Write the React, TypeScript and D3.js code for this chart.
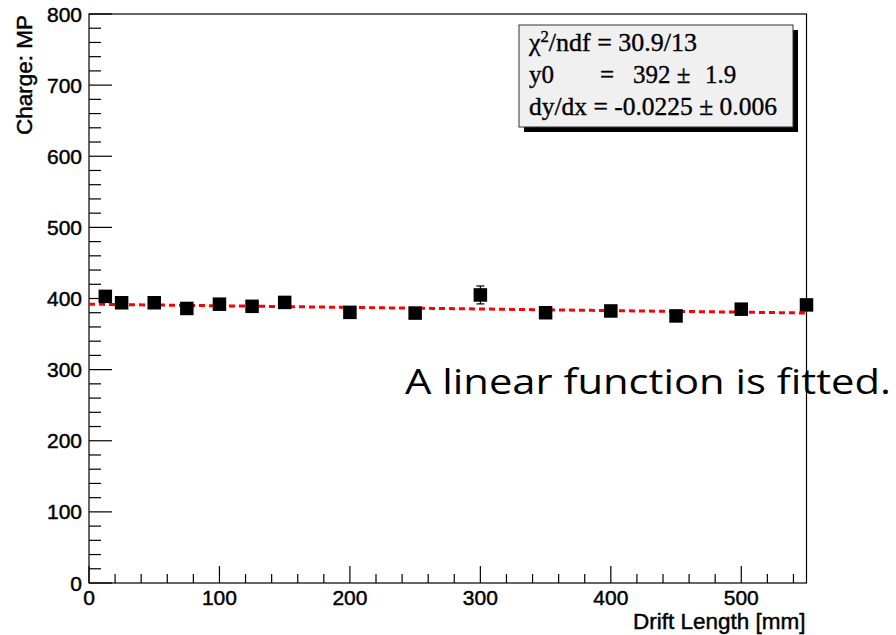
import React from "react";
import * as d3 from "d3";

const driftLength = [12.5, 25, 50, 75, 100, 125, 150, 200, 250, 300, 350, 400, 450, 500, 550];
const charge = [403, 394, 394, 386, 392, 389, 394.5, 380.5, 379.5, 405, 380, 382.5, 375.5, 385, 391];
const chargeErr = [5, 5, 5, 5, 5, 5, 5, 5, 5, 12.6, 5, 5, 5, 5, 5];
const xMajorTicks = [0, 100, 200, 300, 400, 500];
const yMajorTicks = [0, 100, 200, 300, 400, 500, 600, 700, 800];
const fitY0 = 392;
const fitSlope = -0.0225;

const W = 896, H = 635;
const L = 89, R = 806.5, T = 14, B = 583;

export default function App() {
  const x = d3.scaleLinear().domain([0, 550]).range([L, R]);
  const y = d3.scaleLinear().domain([0, 800]).range([B, T]);
  const xMinor = d3.range(0, 551, 20).filter((v) => v % 100 !== 0);
  const yMinor = d3.range(0, 801, 20).filter((v) => v % 100 !== 0);
  const fitLine = d3.line<number>().x((d) => x(d)).y((d) => y(fitY0 + fitSlope * d));
  const fitXs = d3.range(0, 551, 5.5);
  const sans = "'Liberation Sans', Arial, sans-serif";
  const serif = "'Liberation Serif', 'Times New Roman', serif";
  const ms = 13.5;
  const bold = { stroke: "#000", strokeWidth: 0.45 };
  return (
    <svg width={W} height={H} style={{ position: "absolute", left: 0, top: 0, background: "#fff" }}>
      <rect x={0} y={0} width={W} height={H} fill="#fff" />
      {/* frame */}
      <rect x={L} y={T} width={R - L} height={B - T} fill="none" stroke="#000" strokeWidth={1.2} />
      {/* ticks */}
      {xMajorTicks.map((v) => (
        <line key={"xM" + v} x1={x(v)} x2={x(v)} y1={B} y2={B - 17} stroke="#000" strokeWidth={1.2} />
      ))}
      {xMinor.map((v) => (
        <line key={"xm" + v} x1={x(v)} x2={x(v)} y1={B} y2={B - 9} stroke="#000" strokeWidth={1.2} />
      ))}
      {yMajorTicks.map((v) => (
        <line key={"yM" + v} x1={L} x2={L + 23} y1={y(v)} y2={y(v)} stroke="#000" strokeWidth={1.2} />
      ))}
      {yMinor.map((v) => (
        <line key={"ym" + v} x1={L} x2={L + 12} y1={y(v)} y2={y(v)} stroke="#000" strokeWidth={1.2} />
      ))}
      {/* tick labels */}
      {xMajorTicks.map((v) => (
        <text key={"xl" + v} x={x(v)} y={B + 22} fontFamily={sans} fontSize={21} textAnchor="middle" fill="#000" {...bold}>
          {v}
        </text>
      ))}
      {yMajorTicks.map((v) => (
        <text key={"yl" + v} x={L - 7} y={y(v) + 7.5} fontFamily={sans} fontSize={21} textAnchor="end" fill="#000" {...bold}>
          {v}
        </text>
      ))}
      {/* axis titles */}
      <text x={R - 1} y={629} fontFamily={sans} fontSize={22.5} textAnchor="end" fill="#000" {...bold}>
        Drift Length [mm]
      </text>
      <text transform={`translate(32,15) rotate(-90)`} fontFamily={sans} fontSize={22.5} textAnchor="end" fill="#000" {...bold}>
        Charge: MP
      </text>
      {/* fit */}
      <path d={fitLine(fitXs) || ""} fill="none" stroke="#ff0000" strokeWidth={3} strokeDasharray="6,4" />
      {/* data */}
      {driftLength.map((d, i) => (
        <g key={"p" + i}>
          <line x1={x(d)} x2={x(d)} y1={y(charge[i] - chargeErr[i])} y2={y(charge[i] + chargeErr[i])} stroke="#000" strokeWidth={1.2} />
          <line x1={x(d) - 4} x2={x(d) + 4} y1={y(charge[i] - chargeErr[i])} y2={y(charge[i] - chargeErr[i])} stroke="#000" strokeWidth={1.2} />
          <line x1={x(d) - 4} x2={x(d) + 4} y1={y(charge[i] + chargeErr[i])} y2={y(charge[i] + chargeErr[i])} stroke="#000" strokeWidth={1.2} />
          <rect x={x(d) - ms / 2} y={y(charge[i]) - ms / 2} width={ms} height={ms} fill="#000" />
        </g>
      ))}
      {/* stats box */}
      <rect x={524} y={30} width={274} height={102} fill="#000" />
      <rect x={519} y={25} width={274} height={102} fill="#f0f0f0" stroke="#333" strokeWidth={1} />
      <g fontFamily={serif} fontSize={25} fill="#000" stroke="#000" strokeWidth={0.35}>
        <text x={529} y={51} textLength={168} lengthAdjust="spacingAndGlyphs">
          <tspan>χ</tspan>
          <tspan dy={-9} fontSize={16}>2</tspan>
          <tspan dy={9}>/ndf = 30.9/13</tspan>
        </text>
        <text x={529} y={83}>y0</text>
        <text x={600} y={83}>=</text>
        <text x={633} y={83}>392 ±</text>
        <text x={705} y={83}>1.9</text>
        <text x={529} y={115} textLength={248} lengthAdjust="spacingAndGlyphs">dy/dx = -0.0225 ± 0.006</text>
      </g>
      {/* annotation */}
      <text x={405} y={394} fontFamily="'Open Sans', sans-serif" fontSize={34} fill="#000" textLength={486} lengthAdjust="spacingAndGlyphs">
        A linear function is fitted.
      </text>
    </svg>
  );
}
